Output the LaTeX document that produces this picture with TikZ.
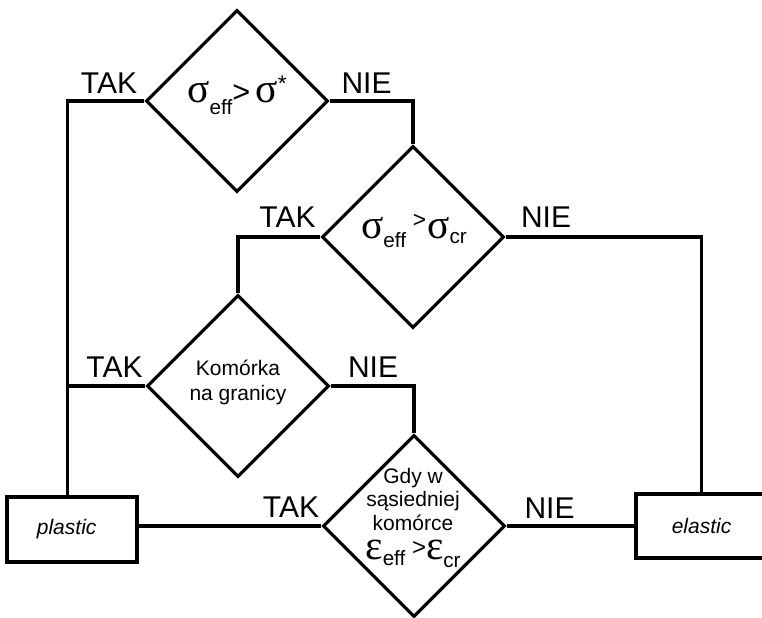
\documentclass[tikz,border=0pt]{standalone}
\usepackage{fontspec}
\setmainfont{Liberation Sans}
\newfontfamily\grkfont{Liberation Serif}
\usetikzlibrary{shapes.geometric}
\newcommand\gsym[2]{{\grkfont\fontsize{#1}{#1}\selectfont #2}}
\newcommand\lowtxt[2]{\raisebox{-#1}{\fontsize{15.5}{15.5}\selectfont #2}}
\begin{document}
\begin{tikzpicture}[x=0.75pt,y=-0.75pt,
  line width=2.4pt,
  dec/.style={draw, shape=diamond, minimum width=136.5pt, minimum height=136.5pt, inner sep=0pt, aspect=1},
  res/.style={draw, rectangle, inner sep=0pt, font=\fontsize{15.75}{16}\selectfont\itshape},
  yn/.style={anchor=base, inner sep=0pt, font=\fontsize{22.5}{22.5}\selectfont},
  txt/.style={anchor=base, inner sep=0pt, align=center, font=\fontsize{15.75}{18.2}\selectfont}
]
\useasboundingbox (0,0) rectangle (762,617);
\clip (0,0) rectangle (762,617);
% decisions
\node[dec] (d1) at (237,101) {};
\node[dec] (d2) at (413,237) {};
\node[dec] (d3) at (238,386) {};
\node[dec] (d4) at (414,526) {};
% results
\node[res, minimum width=97.5pt, minimum height=48.75pt] (plastic) at (72,529.5) {\hspace{-8pt}plastic};
\node[res, minimum width=98.25pt, minimum height=48pt] (elastic) at (701.5,526) {elastic};
% texts in decisions
\node[txt] (t1) at (237,102) {\gsym{31}{σ}\lowtxt{9pt}{eff}{\fontsize{23}{23}\selectfont >}\hspace{4pt}\gsym{31}{σ}\raisebox{8pt}{\fontsize{17}{17}\selectfont *}};
\node[txt] (t2) at (414,238) {\gsym{31}{σ}\lowtxt{7pt}{eff}\hspace{5pt}\raisebox{8pt}{\fontsize{17}{17}\selectfont >}\hspace{1pt}\gsym{31}{σ}\lowtxt{4pt}{cr}};
\node[txt] (t3) at (238,400) {Komórka\\na granicy};
\node[txt, font=\fontsize{15.75}{17.6}\selectfont] (t4) at (413,559) {Gdy w\\sąsiedniej\\komórce\\[4pt]\gsym{31}{ε}\lowtxt{5pt}{eff}\hspace{5pt}\raisebox{3pt}{\fontsize{18}{18}\selectfont >}\gsym{31}{ε}\lowtxt{6pt}{cr}};
% labels
\node[yn] (l1t) at (109,93) {TAK};
\node[yn] (l1n) at (366.5,93) {NIE};
\node[yn] (l2t) at (287.5,227) {TAK};
\node[yn] (l2n) at (546,227) {NIE};
\node[yn] (l3t) at (114.5,377) {TAK};
\node[yn] (l3n) at (373,377) {NIE};
\node[yn] (l4t) at (291,517) {TAK};
\node[yn] (l4n) at (549.5,518) {NIE};
% connectors
\coordinate (lx) at (67.5,0);
\draw (d1.west) -| (lx |- plastic.north);
\draw (d3.west) -- (lx |- d3.west);
\draw (d1.east) -| (d2.north);
\draw (d2.west) -| (d3.north);
\draw (d2.east) -| (elastic.north);
\draw (d3.east) -| (d4.north);
\draw (d4.west) -- (d4.west -| plastic.east);
\draw (d4.east) -- (d4.east -| elastic.west);
\end{tikzpicture}
\end{document}
